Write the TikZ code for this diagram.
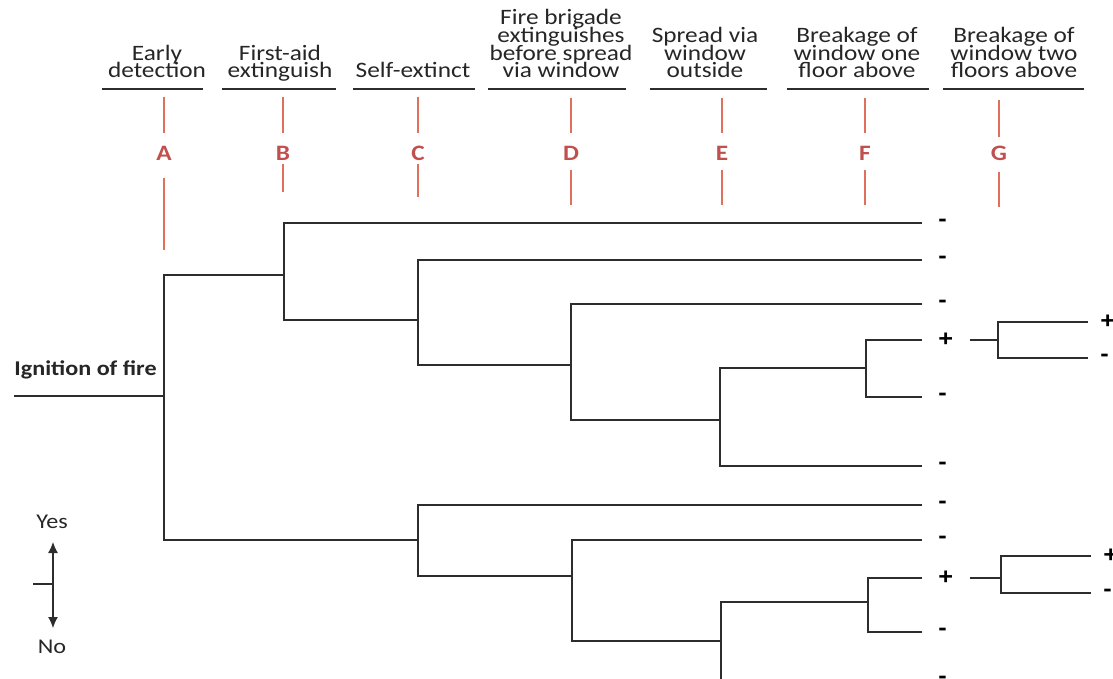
\documentclass[tikz,border=0pt]{standalone}
\usepackage{fontspec}
\setmainfont{Carlito}[FakeStretch=1.15]
\newfontfamily\signfont{Liberation Sans}[FakeStretch=1.1]
\usetikzlibrary{arrows.meta}
\definecolor{ink}{RGB}{38,38,38}
\definecolor{treeline}{RGB}{45,45,45}
\definecolor{redline}{RGB}{224,112,92}
\definecolor{redtext}{RGB}{192,80,77}
\newcommand\hdrfont{\fontsize{11}{8.8}\selectfont\lineskiplimit -20pt\relax}
\tikzset{
  hdr/.style={align=center, inner sep=0pt, anchor=south, text=ink, font=\hdrfont},
  uline/.style={draw=treeline, line width=0.75pt},
  redl/.style={draw=redline, line width=0.6pt},
  letter/.style={inner sep=0pt, text=redtext, font=\bfseries\fontsize{11}{13}\selectfont},
  tree/.style={draw=treeline, line width=0.7pt},
  sign/.style={anchor=west, inner ysep=0pt, inner xsep=8pt, text=black,
    font=\signfont\bfseries\fontsize{11.5}{13}\selectfont},
  signr/.style={sign, inner xsep=6pt},
  legend/.style={inner sep=0pt, text=ink, font=\fontsize{10.5}{12}\selectfont},
}
\begin{document}
\begin{tikzpicture}[x=0.5pt, y=-0.5pt]
\useasboundingbox (0,0) rectangle (1113,679);
\clip (0,0) rectangle (1113,679);

% ---- headers
\node[hdr] (hA) at (157,83.3) {Early\\detection\strut};
\node[hdr] (hB) at (280,83.3) {First-aid\\extinguish\strut};
\node[hdr] (hC) at (413,83.3) {Self-extinct\strut};
\node[hdr] (hD) at (561,83.3) {Fire brigade\\extinguishes\\before spread\\via window\strut};
\node[hdr] (hE) at (705,83.3) {Spread via\\window\\outside\strut};
\node[hdr] (hF) at (857,83.3) {Breakage of\\window one\\floor above\strut};
\node[hdr] (hG) at (1014,83.3) {Breakage of\\window two\\floors above\strut};

\foreach \n/\a/\b in {A/102/203, B/222/336, C/353/475, D/488/626, E/650/767, F/787/929, G/943/1084}{
  \coordinate (u\n1) at (\a,89);
  \coordinate (u\n2) at (\b,89);
  \draw[uline] (u\n1) -- (u\n2);
}

% ---- red letters and their lines
\foreach \n/\x/\a/\b/\c/\d in {A/164/97/133/178/250, B/283/97/133/164/192, C/418/97/133/164/197,
    D/571/98/133/170/205, E/722/98/133/170/205, F/865/98/133/170/205, G/999/100/137/172/207}{
  \node[letter] (\n) at (\x,153) {\n};
  \coordinate (\n t1) at (\x,\a);
  \coordinate (\n t2) at (\x,\b);
  \coordinate (\n b1) at (\x,\c);
  \coordinate (\n b2) at (\x,\d);
  \draw[redl] (\n t1) -- (\n t2);
  \draw[redl] (\n b1) -- (\n b2);
}

% ---- root
\node[inner sep=0pt, anchor=base west, text=ink, font=\bfseries\fontsize{10.5}{12}\selectfont] (ign) at (14,375) {Ignition of fire};
\coordinate (start) at (14,396);
\coordinate (jA) at (164,396);
\coordinate (jB) at (284,275);
\coordinate (jC1) at (418,320);
\coordinate (jD1) at (571,365);
\coordinate (jE1) at (720,420);
\coordinate (jF1) at (866,368);
\coordinate (jG1) at (998,340);
\coordinate (jC2) at (418,540);
\coordinate (jD2) at (572,576);
\coordinate (jE2) at (721,641);
\coordinate (jF2) at (868,602);
\coordinate (jG2) at (1001,578);

% ---- leaves
\node[sign] (l1) at (922,223) {-};
\node[sign] (l2) at (922,260) {-};
\node[sign] (l3) at (922,304) {-};
\node[sign] (l4) at (922,340) {+};
\node[sign] (l5) at (922,397) {-};
\node[sign] (l6) at (922,466) {-};
\node[signr] (g1) at (1088,322) {+};
\node[signr] (g2) at (1088,358) {-};
\node[sign] (m1) at (922,505) {-};
\node[sign] (m2) at (922,540) {-};
\node[sign] (m3) at (922,578) {+};
\node[sign] (m4) at (922,632) {-};
\node[sign] (m5) at (922,680) {-};
\node[signr] (h1) at (1091,556) {+};
\node[signr] (h2) at (1091,593) {-};

% ---- tree connectors
\draw[tree] (start) -- (jA);
\draw[tree] (jB) -| (jA) |- (jC2);
\draw[tree] (l1.west) -| (jB) |- (jC1);
\draw[tree] (l2.west) -| (jC1) |- (jD1);
\draw[tree] (l3.west) -| (jD1) |- (jE1);
\draw[tree] (jF1) -| (jE1) |- (l6.west);
\draw[tree] (l4.west) -| (jF1) |- (l5.west);
\draw[tree] (l4.east) -- (jG1);
\draw[tree] (g1.west) -| (jG1) |- (g2.west);
\draw[tree] (m1.west) -| (jC2) |- (jD2);
\draw[tree] (m2.west) -| (jD2) |- (jE2);
\draw[tree] (jF2) -| (jE2) |- (m5.west);
\draw[tree] (m3.west) -| (jF2) |- (m4.west);
\draw[tree] (m3.east) -- (jG2);
\draw[tree] (h1.west) -| (jG2) |- (h2.west);

% ---- legend
\node[legend] (yes) at (52,522) {Yes};
\node[legend] (no) at (52,647) {No};
\coordinate (up) at (53,542);
\coordinate (dn) at (53,628);
\coordinate (mid) at (53,584);
\coordinate (tick) at (33,584);
\draw[tree, line width=0.6pt, {Latex[length=5.5pt,width=5pt]}-{Latex[length=5.5pt,width=5pt]}] (up) -- (dn);
\draw[tree, line width=0.6pt] (tick) -- (mid);
\end{tikzpicture}
\end{document}
